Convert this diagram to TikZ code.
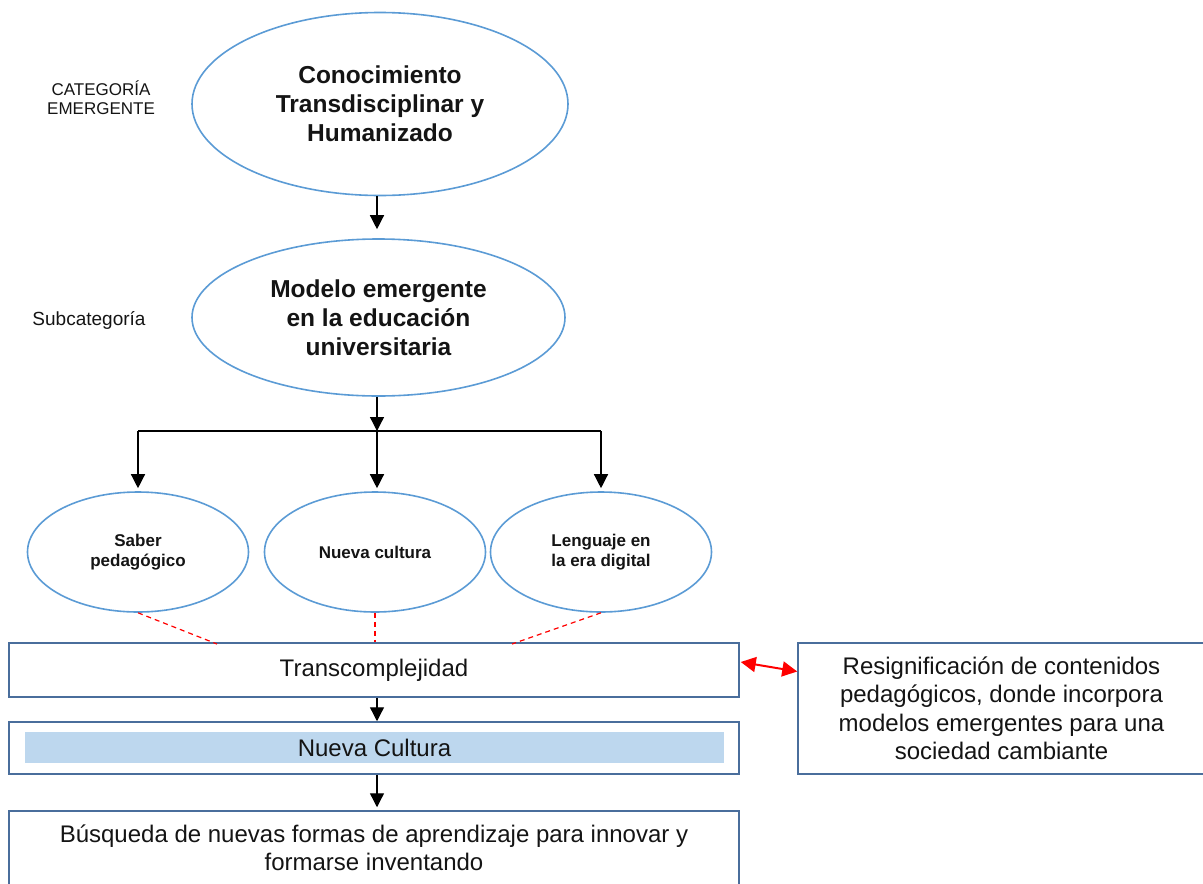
\documentclass[tikz,border=0pt]{standalone}
\usepackage{fontspec}
\setmainfont{Liberation Sans}
\usetikzlibrary{shapes.geometric,arrows.meta}
\definecolor{ellblue}{HTML}{5B9BD5}
\definecolor{boxblue}{HTML}{4A6E9C}
\definecolor{fillblue}{HTML}{BDD7EE}
\definecolor{txt}{HTML}{141414}
\tikzset{
  ell/.style={ellipse, draw=ellblue, line width=1.6pt, inner sep=0pt, align=center, text=txt},
  bigell/.style={ell, font=\fontsize{24.5}{29}\selectfont\bfseries},
  smallell/.style={ell, minimum width=221pt, minimum height=120pt, font=\fontsize{17}{20}\selectfont\bfseries},
  boxnode/.style={rectangle, draw=boxblue, line width=1.5pt, inner sep=0pt, align=center, text=txt, font=\fontsize{24}{28.5}\selectfont},
  arr/.style={line width=1.3pt, -{Triangle[width=14pt,length=14pt]}},
  plain/.style={line width=1.3pt},
  reddash/.style={red, line width=1.2pt, dash pattern=on 5pt off 4pt},
  redarr/.style={red, line width=2pt, {Triangle[width=15pt,length=15pt]}-{Triangle[width=15pt,length=15pt]}},
  lab/.style={text=txt, align=center}
}
\begin{document}
\begin{tikzpicture}[x=1pt,y=-1pt]
\useasboundingbox (0,0) rectangle (1203,884);
\clip (0,0) rectangle (1203,884);
% labels
\node[lab, font=\fontsize{17}{19}\selectfont] (lcat) at (101,97.5) {CATEGORÍA\\EMERGENTE};
\node[lab, font=\fontsize{19}{22}\selectfont] (lsub) at (89,320) {Subcategoría};
% ellipses
\node[bigell, minimum width=376pt, minimum height=183pt] (e1) at (380,104) {Conocimiento\\Transdisciplinar y\\Humanizado};
\node[bigell, minimum width=373pt, minimum height=157pt] (e2) at (378.5,317.5) {Modelo emergente\\en la educación\\universitaria};
\node[smallell] (sp) at (138,552) {Saber\\pedagógico};
\node[smallell] (nv) at (375,552) {Nueva cultura};
\node[smallell] (ld) at (601,552) {Lenguaje en\\la era digital};
% boxes
\node[boxnode, minimum width=730pt, minimum height=54pt] (tc) at (374,670) {Transcomplejidad};
\node[boxnode, minimum width=730pt, minimum height=52pt] (nc) at (374,748) {};
\node[rectangle, fill=fillblue, inner sep=0pt, minimum width=699pt, minimum height=31pt, text=txt, font=\fontsize{24}{28.5}\selectfont] (ncin) at (374.5,747.5) {Nueva Cultura};
\node[boxnode, minimum width=730pt, minimum height=74pt] (bq) at (374,848) {Búsqueda de nuevas formas de aprendizaje para innovar y\\formarse inventando};
\node[boxnode, minimum width=407pt, minimum height=131pt] (rb) at (1001.5,708.5) {Resignificación de contenidos\\pedagógicos, donde incorpora\\modelos emergentes para una\\sociedad cambiante};
% main column connectors
\coordinate (cx) at (377,0);
\coordinate (br) at (377,431);
\draw[arr, shorten >=9pt] (e1.south -| cx) -- (e2.north -| cx);
\draw[arr] (e2.south -| cx) -- (br);
\draw[plain] (sp.north |- br) -- (ld.north |- br);
\draw[arr, shorten >=3pt] (sp.north |- br) -- (sp.north);
\draw[arr, shorten >=3pt] (br) -- (nv.north -| br);
\draw[arr, shorten >=3pt] (ld.north |- br) -- (ld.north);
% red dashed links
\coordinate (d1) at (217,644);
\coordinate (d3) at (512,644);
\draw[reddash] (sp.south) -- (d1);
\draw[reddash] (nv.south) -- (nv.south |- tc.north);
\draw[reddash] (ld.south) -- (d3);
% box arrows
\draw[arr] (tc.south -| cx) -- (nc.north -| cx);
\draw[arr, shorten >=3pt] (nc.south -| cx) -- (bq.north -| cx);
% red double arrow
\draw[redarr] ([xshift=1pt,yshift=8pt]tc.east) -- ([yshift=37pt]rb.west);
\end{tikzpicture}
\end{document}
